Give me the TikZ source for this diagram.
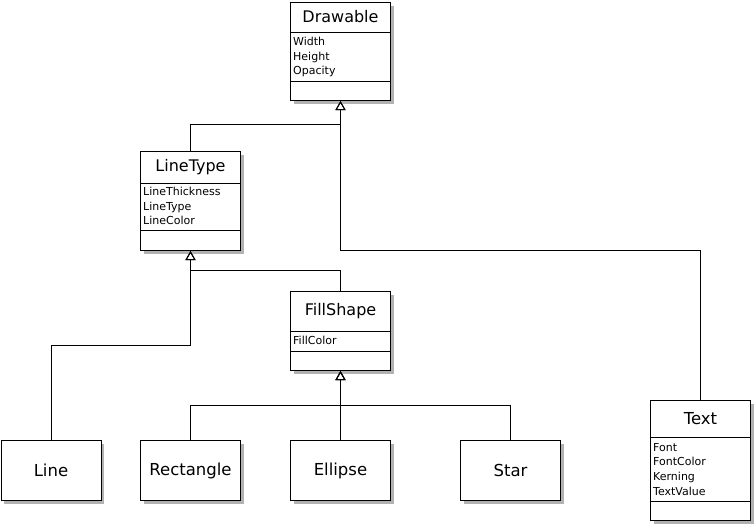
\documentclass[tikz,border=0pt]{standalone}
\usepackage{fontspec}
\setmainfont{DejaVu Sans}
\usetikzlibrary{shapes,arrows.meta,positioning,calc,shadows}

\begin{document}
\begin{tikzpicture}[x=1pt, y=-1pt]
\tikzstyle{classbox} = [rectangle, draw, fill=white, line width=1pt, minimum width=100pt, inner sep=0pt, anchor=north west, drop shadow={shadow xshift=3pt, shadow yshift=-3pt, fill=black!30, opacity=1}]
\tikzstyle{leafbox} = [classbox, minimum height=60pt, font=\fontsize{16.5}{19}\selectfont]
\tikzstyle{classname} = [font=\fontsize{16}{18}\selectfont, inner sep=0pt]
\tikzstyle{attrs} = [font=\fontsize{11}{14.7}\selectfont, align=left, inner sep=0pt]
\tikzstyle{divider} = [draw, line width=1pt]
\tikzstyle{inherit} = [draw, line width=1pt, -{Triangle[open, length=9pt, width=10pt]}]

\useasboundingbox (0,0) rectangle (755,525);

% Abstract classes

\node [classbox, minimum height=98pt] (drawable) at (290,2) {};
\node [classname] (drawableName) at ($(drawable.north)+(0,15)$) {Drawable};
\draw [divider] ($(drawable.north west)+(0,30)$) coordinate (drawableDiv) -- ++(100,0);
\node [attrs, below right=5pt and 3pt of drawableDiv] (drawableAttrs) {Width\\Height\\Opacity};
\draw [divider] ($(drawable.north west)+(0,79)$) -- ++(100,0);

\node [classbox, minimum height=99pt] (lineType) at (140,151) {};
\node [classname] (lineTypeName) at ($(lineType.north)+(0,16)$) {LineType};
\draw [divider] ($(lineType.north west)+(0,32)$) coordinate (lineTypeDiv) -- ++(100,0);
\node [attrs, below right=4pt and 3pt of lineTypeDiv] (lineTypeAttrs) {LineThickness\\LineType\\LineColor};
\draw [divider] ($(lineType.north west)+(0,79)$) -- ++(100,0);

\node [classbox, minimum height=79pt] (fillShape) at (290,291) {};
\node [classname] (fillShapeName) at ($(fillShape.north)+(0,20)$) {FillShape};
\draw [divider] ($(fillShape.north west)+(0,40)$) coordinate (fillShapeDiv) -- ++(100,0);
\node [attrs, below right=5pt and 3pt of fillShapeDiv] (fillShapeAttrs) {FillColor};
\draw [divider] ($(fillShape.north west)+(0,60)$) -- ++(100,0);

% Concrete classes

\node [classbox, minimum height=120pt] (text) at (650,400) {};
\node [classname, font=\fontsize{16.5}{19}\selectfont] (textName) at ($(text.north)+(0,19)$) {Text};
\draw [divider] ($(text.north west)+(0,37)$) coordinate (textDiv) -- ++(100,0);
\node [attrs, below right=6pt and 3pt of textDiv] (textAttrs) {Font\\FontColor\\Kerning\\TextValue};
\draw [divider] ($(text.north west)+(0,101)$) -- ++(100,0);

\node [leafbox] (line) at (0.5,440) {Line};
\node [leafbox] (rectangle) at (140,440) {Rectangle};
\node [leafbox] (ellipse) at (290,440) {Ellipse};
\node [leafbox] (star) at (460,440) {Star};

% Generalizations
\draw [inherit] (lineType.north) -- ++(0,-27) -| (drawable.south);
\draw [inherit] (text.north) -- ++(0,-150) -| (drawable.south);
\draw [inherit] (fillShape.north) -- ++(0,-21) -| (lineType.south);
\draw [inherit] (line.north) -- ++(0,-95) -| (lineType.south);
\draw [inherit] (rectangle.north) -- ++(0,-35) -| (fillShape.south);
\draw [inherit] (ellipse.north) -- ++(0,-35) -| (fillShape.south);
\draw [inherit] (star.north) -- ++(0,-35) -| (fillShape.south);

\end{tikzpicture}
\end{document}
